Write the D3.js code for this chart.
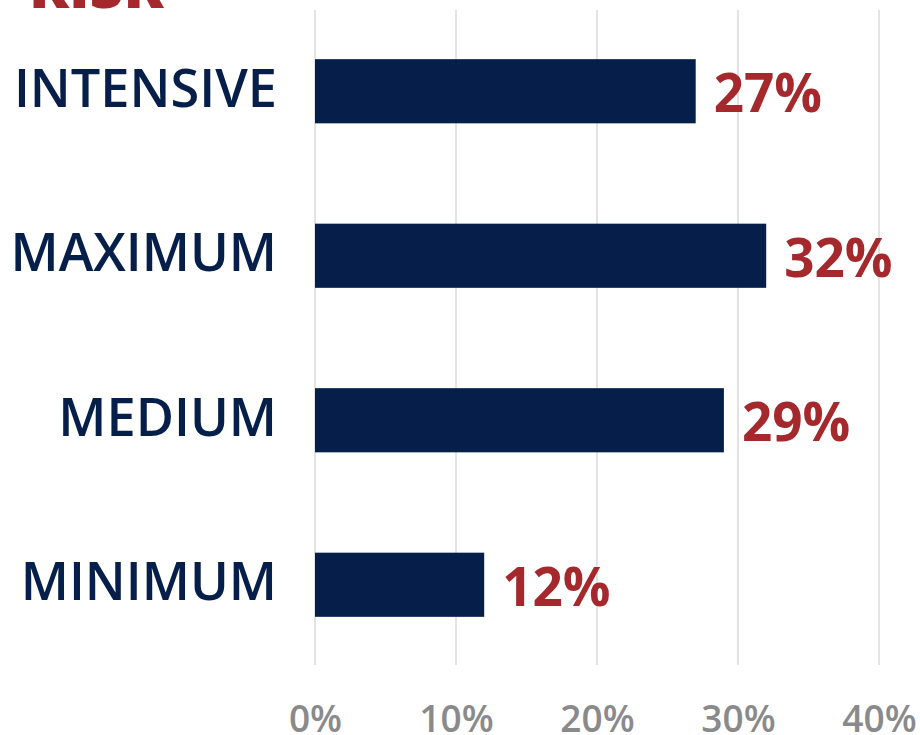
<!DOCTYPE html>
<html><head><meta charset="utf-8">
<script src="https://cdn.jsdelivr.net/npm/d3@7"></script>
<style>body{margin:0;background:#fff}svg{display:block}</style>
</head><body>
<script>
const categories = ["INTENSIVE", "MAXIMUM", "MEDIUM", "MINIMUM"];
const values = [27, 32, 29, 12];
const tickValues = [0, 10, 20, 30, 40];
const title = "RISK";

const W = 920, H = 735;
const svg = d3.select("body").append("svg").attr("width", W).attr("height", H);
const x = d3.scaleLinear().domain([0, 40]).range([315, 879]);
const y = d3.scaleBand().domain(categories).range([9, 667]).paddingInner(0.61).paddingOuter(0.305);

svg.append("text").attr("x", 29).attr("y", 8).attr("fill", "#A5292C")
  .style("font-family", "'Open Sans'").style("font-weight", 800).style("font-size", "59px").text(title);

// grid
svg.append("g").selectAll("line").data(tickValues).join("line")
  .attr("x1", d => x(d)).attr("x2", d => x(d)).attr("y1", 10).attr("y2", 665)
  .attr("stroke", "#e3e3e3").attr("stroke-width", 2);

// axis labels
const ax = svg.append("g").attr("transform", "translate(0,665)")
  .call(d3.axisBottom(x).tickValues(tickValues).tickFormat(d => d + "%").tickSize(0).tickPadding(0));
ax.select(".domain").remove();
ax.selectAll("text").attr("y", 67).attr("dy", null).attr("fill", "#8a8a8c")
  .style("font-family", "'Open Sans'").style("font-weight", 600).style("font-size", "37px");

// bars
svg.append("g").selectAll("rect").data(values).join("rect")
  .attr("x", x(0)).attr("y", (d, i) => y(categories[i]))
  .attr("width", d => x(d) - x(0)).attr("height", y.bandwidth())
  .attr("fill", "#061F4A");

// value labels
svg.append("g").selectAll("text").data(values).join("text")
  .attr("x", d => x(d) + 18).attr("y", (d, i) => y(categories[i]) + y.bandwidth() / 2)
  .attr("dy", "0.4em").attr("fill", "#A5292C")
  .style("font-family", "'Open Sans'").style("font-weight", 700).style("font-size", "53px")
  .text(d => d + "%");

// category labels
svg.append("g").selectAll("text").data(categories).join("text")
  .attr("x", 277).attr("y", d => y(d) + y.bandwidth() / 2).attr("dy", "0.3em")
  .attr("text-anchor", "end").attr("fill", "#061F4A")
  .style("font-family", "'Open Sans'").style("font-weight", 600).style("font-size", "52.3px")
  .text(d => d);
</script>
</body></html>
